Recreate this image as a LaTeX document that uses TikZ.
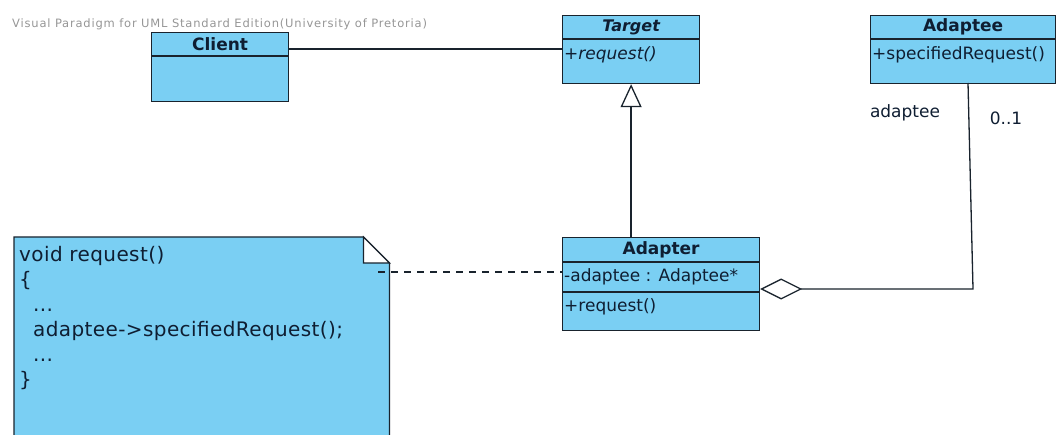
\documentclass[tikz,border=0pt]{standalone}
\usepackage{fontspec}
\setmainfont{DejaVu Sans}
\newfontfamily\wmfont[LetterSpace=7]{DejaVu Sans}
\newfontfamily\notefont[LetterSpace=2]{DejaVu Sans}
\usetikzlibrary{arrows.meta,calc}
\definecolor{vpfill}{RGB}{122,207,243}
\definecolor{vpline}{RGB}{25,35,45}
\definecolor{vptext}{RGB}{15,30,50}
\definecolor{vpgray}{RGB}{150,150,150}
\begin{document}
\begin{tikzpicture}[x=1pt,y=-1pt,
  classbox/.style={draw=vpline, fill=vpfill, line width=1.2pt, anchor=north west, inner sep=0pt},
  sepline/.style={draw=vpline, line width=1.2pt},
  member/.style={anchor=west, inner sep=0pt, text=vptext, font=\fontsize{17}{20}\selectfont},
  classtitle/.style={anchor=center, inner sep=0pt, text=vptext, font=\fontsize{17}{20}\selectfont\bfseries},
  conn/.style={draw=vpline, line width=1.3pt}]
\useasboundingbox (0,0) rectangle (1056,435);
\clip (0,0) rectangle (1056,435);

% watermark
\node[anchor=base west, inner sep=0pt, text=vpgray, font=\wmfont\fontsize{11.5}{13}\selectfont] (vp) at (12,28) {Visual Paradigm for UML Standard Edition(University of Pretoria)};

% Client
\node[classbox, minimum width=137pt, minimum height=69pt] (client) at (151,32) {};
\draw[sepline] ([yshift=-24pt]client.north west) -- ([yshift=-24pt]client.north east);
\node[classtitle] (clientt) at ([yshift=-12pt]client.north) {Client};

% Target
\node[classbox, minimum width=137pt, minimum height=68pt] (target) at (562,15) {};
\draw[sepline] ([yshift=-24pt]target.north west) -- ([yshift=-24pt]target.north east);
\node[classtitle, font=\fontsize{16}{20}\selectfont\bfseries\itshape] (targett) at ([yshift=-12pt]target.north) {Target};
\node[member, font=\fontsize{17}{20}\selectfont\itshape] (targetop) at ([xshift=2pt,yshift=-40pt]target.north west) {+request()};

% Adaptee
\node[classbox, minimum width=185pt, minimum height=68pt] (adaptee) at (870,15) {};
\draw[sepline] ([yshift=-24pt]adaptee.north west) -- ([yshift=-24pt]adaptee.north east);
\node[classtitle] (adapteet) at ([yshift=-12pt]adaptee.north) {Adaptee};
\node[member] (adapteeop) at ([xshift=2pt,yshift=-40pt]adaptee.north west) {+specifiedRequest()};

% Adapter
\node[classbox, minimum width=197pt, minimum height=93pt] (adapter) at (562,237) {};
\draw[sepline] ([yshift=-25pt]adapter.north west) -- ([yshift=-25pt]adapter.north east);
\draw[sepline] ([yshift=-55pt]adapter.north west) -- ([yshift=-55pt]adapter.north east);
\node[classtitle] (adaptert) at ([yshift=-12.5pt]adapter.north) {Adapter};
\node[member] (adapterattr) at ([xshift=2pt,yshift=-40pt]adapter.north west) {-adaptee : Adaptee*};
\node[member] (adapterop) at ([xshift=2pt,yshift=-70pt]adapter.north west) {+request()};

% Note
\node[inner sep=0pt, minimum width=375pt, minimum height=210pt, anchor=north west] (note) at (14,237) {};
\draw[draw=vpline, fill=vpfill, line width=1.2pt] (note.south west) -- (note.north west) -- ([xshift=-26pt]note.north east) -- ([yshift=-26pt]note.north east) -- (note.south east);
\draw[draw=vpline, fill=white, line width=1.2pt] ([xshift=-26pt]note.north east) -- ([xshift=-26pt,yshift=-26pt]note.north east) -- ([yshift=-26pt]note.north east) -- cycle;
\node[anchor=north west, inner sep=0pt, align=left, text=vptext, font=\notefont\fontsize{20}{25}\selectfont] (code) at (19,246)
  {void request()\\ \{\\ \hspace*{14pt}...\\ \hspace*{14pt}adaptee->specifiedRequest();\\ \hspace*{14pt}...\\ \}};

% Connectors
\draw[conn] (client.east |- 0,49) -- (target.west |- 0,49);
\draw[conn, -{Triangle[open, width=21pt, length=23pt]}] (adapter.north -| target.south) -- (target.south);
\coordinate (bend) at (973,289);
\coordinate (adtop) at (968,83);
\draw[conn, {Diamond[open, width=21pt, length=42pt]}-] (adapter.east |- bend) -- (bend) -- (adtop);
\coordinate (nd) at (378,272);
\draw[conn, dash pattern=on 7pt off 6pt] (nd) -- (adapter.west |- nd);

% Role labels
\node[member, anchor=center] (role) at (905,113) {adaptee};
\node[member, anchor=center] (mult) at (1006,118) {0..1};
\end{tikzpicture}
\end{document}
